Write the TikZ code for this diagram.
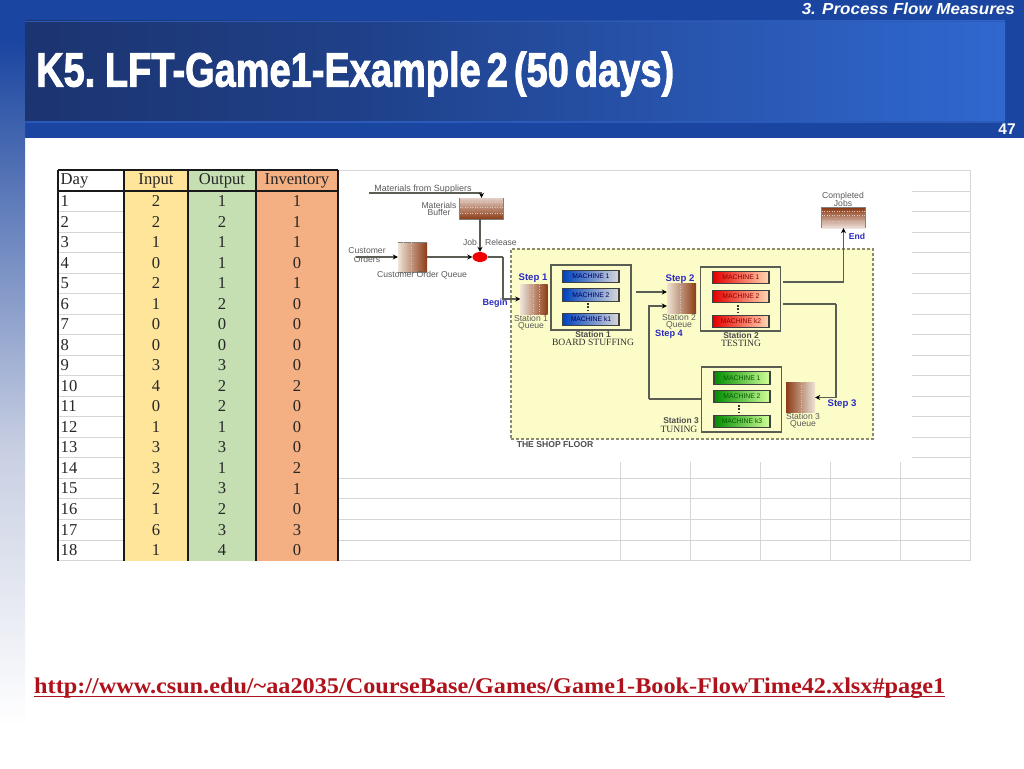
\documentclass[tikz,border=0pt]{standalone}
\usepackage{fontspec}
\usepackage{graphicx}
\setmainfont{Liberation Serif}
\setsansfont{Liberation Sans}
\newfontfamily\titlef[BoldFeatures={FakeBold=2.2}]{Liberation Sans}
\usetikzlibrary{arrows.meta,shapes.geometric}
\definecolor{band}{HTML}{1A45A0}
\definecolor{bandlight}{HTML}{2B5AB8}
\definecolor{titledark}{HTML}{1C3470}
\definecolor{titlemid}{HTML}{1F4088}
\definecolor{titlelight}{HTML}{3068D0}
\definecolor{stripmid}{HTML}{C8CFE2}
\definecolor{ycol}{HTML}{FEE599}
\definecolor{gcol}{HTML}{C5DFB3}
\definecolor{ocol}{HTML}{F4B083}
\definecolor{sheet}{HTML}{D6D6D6}
\definecolor{floor}{HTML}{FCFCC8}
\definecolor{floorline}{HTML}{8C8C6C}
\definecolor{flowc}{HTML}{5A5D54}
\definecolor{lab}{HTML}{5A5A5A}
\definecolor{stepc}{HTML}{2A2AC0}
\definecolor{qdark}{HTML}{8C3C16}
\definecolor{qlight}{HTML}{EFE3D6}
\definecolor{linkc}{HTML}{B0121C}
\tikzset{
  x=1pt,y=-1pt,
  cell/.style={font=\fontsize{16.6}{18}\selectfont,inner sep=0pt,text=black!85},
  sheetline/.style={draw=sheet,line width=1pt},
  tabline/.style={draw=black!90,line width=1.2pt},
  flow/.style={draw=flowc,line width=1.2pt,-{Stealth[length=5pt,width=5pt,color=black]}},
  flowplain/.style={draw=flowc,line width=1.2pt},
  lbl/.style={font=\sffamily\fontsize{8.6}{8.6}\selectfont,text=lab,align=center,inner sep=0pt},
  steplbl/.style={font=\sffamily\bfseries\fontsize{9.6}{10}\selectfont,text=stepc,inner sep=0pt},
  stat/.style={font=\sffamily\bfseries\fontsize{8.4}{9}\selectfont,text=black!70,inner sep=0pt},
  statname/.style={font=\fontsize{9.6}{10}\selectfont,text=black!80,inner sep=0pt},
  frame/.style={draw=flowc,line width=1.2pt,fill=floor,minimum width=80pt,inner sep=0pt},
  qbox/.style={minimum width=27pt,minimum height=30pt,inner sep=0pt},
  qdot/.style={draw=gray!45,dotted,line width=.5pt},
  mach/.style={draw=black!75,line width=1.2pt,minimum width=56pt,minimum height=12.5pt,inner sep=0pt,
     font=\sffamily\fontsize{6.8}{6.8}\selectfont},
  mblue/.style={mach,left color=blue!65!cyan!75!black,right color=gray!30,text=blue!35!black},
  mred/.style={mach,left color=red!90!black,right color=orange!30,text=red!55!black},
  mgreen/.style={mach,left color=green!55!black,right color=green!45!yellow!40,text=green!35!black},
  vdotsline/.style={draw=black!80,line width=2pt,dash pattern=on 1.7pt off 1.6pt},
}
\begin{document}
\begin{tikzpicture}
\useasboundingbox (0,0) rectangle (1024,768);
\fill[white] (0,0) rectangle (1024,768);
% slide chrome
\fill[band] (0,0) rectangle (1024,138);
\fill[top color=band,bottom color=stripmid] (0,40) rectangle (25,450);
\fill[top color=stripmid,bottom color=white] (0,450) rectangle (25,725);
\fill[left color=titledark,right color=titlemid] (25,21) rectangle (350,122);
\fill[left color=titlemid,right color=titlelight] (350,21) rectangle (1005,122);
\fill[bandlight] (25,21) rectangle (1005,22.5);
\fill[bandlight] (25,121) rectangle (1005,122.5);
\node[anchor=base west,inner sep=0pt,text=white] (title) at (36,86.5)
  {\resizebox{638pt}{\height}{\titlef\bfseries\fontsize{48}{52}\selectfont\spaceskip=.16em K5. LFT-Game1-Example 2 (50 days)}};
\node[anchor=east,inner sep=0pt,text=white,font=\sffamily\bfseries\itshape\fontsize{16}{18}\selectfont] (section) at (1015,9)
  {\resizebox{213pt}{\height}{3. Process Flow Measures}};
\node[inner sep=0pt,text=white,font=\sffamily\bfseries\fontsize{15.5}{18}\selectfont] (pageno) at (1007,129) {47};
% spreadsheet background
\foreach \k in {14,...,18}{\draw[sheetline] (338,191+20.53*\k) -- (970,191+20.53*\k);}
\foreach \k in {0,...,13}{\draw[sheetline] (912,191+20.53*\k) -- (970,191+20.53*\k);}
\draw[sheetline] (338,170) -- (970,170);
\draw[sheetline] (970,170) -- (970,560.5);
\foreach \xx in {620,690,760,830,900}{\draw[sheetline] (\xx,462) -- (\xx,560.5);}
% table
\fill[ycol] (124,170) rectangle (188,560.5);
\fill[gcol] (188,170) rectangle (256,560.5);
\fill[ocol] (256,170) rectangle (338,560.5);
\foreach \k in {0,...,18}{\draw[sheetline] (58,191+20.53*\k) -- (124,191+20.53*\k);}
\draw[tabline] (58,170) -- (338,170);
\draw[tabline] (58,191) -- (338,191);
\foreach \xx in {58,124,188,256,338}{\draw[tabline] (\xx,170) -- (\xx,560.5);}
\node[cell,anchor=west] (hd) at (60.5,181) {Day};
\node[cell] (hi) at (156,181) {Input};
\node[cell] (ho) at (222,181) {Output};
\node[cell] (hv) at (297,181) {Inventory};
\foreach \r/\a/\b/\c in {1/2/1/1,2/2/2/1,3/1/1/1,4/0/1/0,5/2/1/1,6/1/2/0,7/0/0/0,8/0/0/0,9/3/3/0,10/4/2/2,11/0/2/0,12/1/1/0,13/3/3/0,14/3/1/2,15/2/3/1,16/1/2/0,17/6/3/3,18/1/4/0}{
  \node[cell,anchor=west] (d\r) at (60.5,180.6+20.53*\r) {\r};
  \node[cell] (a\r) at (156,180.6+20.53*\r) {\a};
  \node[cell] (b\r) at (222,180.6+20.53*\r) {\b};
  \node[cell] (c\r) at (297,180.6+20.53*\r) {\c};
}
% shop floor
\node[draw=floorline,dash pattern=on 3pt off 2pt,line width=1.1pt,fill=floor,minimum width=362pt,minimum height=190pt,inner sep=0pt] (shop) at (692,344) {};
\node[font=\sffamily\bfseries\fontsize{8.6}{8.6}\selectfont,text=black!70,inner sep=0pt] (shoplbl) at (555,444.5) {THE SHOP FLOOR};
% materials
\node[qbox,minimum width=43pt,minimum height=21pt,top color=qdark!25!white,bottom color=qdark] (mbuf) at (481.5,208.5) {};
\draw[gray,line width=.8pt] (mbuf.north west) -- (mbuf.south west) -- (mbuf.south east) -- (mbuf.north east);
\foreach \yy in {-5,1,6}{\draw[white!70!qdark,dotted,line width=.5pt] ([yshift=\yy pt]mbuf.west) -- ([yshift=\yy pt]mbuf.east);}
\node[lbl] (mfs) at (423,189.5) {\fontsize{9}{9}\selectfont Materials from Suppliers};
\node[lbl] (mbl) at (439,209) {Materials\\[-1.4pt]Buffer};
\coordinate (msrc) at (369,193);
\draw[flow] (msrc) -| (mbuf.north);
\node[ellipse,fill=red!95!black,minimum width=15pt,minimum height=10pt,inner sep=0pt] (rel) at (480,257) {};
\draw[flow] (rel.north |- mbuf.south) -- (rel.north);
\node[lbl] (job) at (470,242) {Job};
\node[lbl] (jrel) at (501,242) {Release};
% customer orders
\node[qbox,minimum width=29pt,left color=qlight,right color=qdark] (coq) at (412.5,257) {};
\draw[gray,line width=.6pt] (coq.north west) -- (coq.north east);
\draw[gray,line width=.6pt] (coq.south west) -- (coq.south east);
\foreach \s in {-9,-1}{\draw[qdot] ([xshift=\s pt]coq.north) -- ([xshift=\s pt]coq.south);}
\node[lbl] (co) at (367,255.5) {Customer\\[.4pt]Orders};
\coordinate (csrc) at (356,257);
\draw[flow] (csrc) -- (coq.west);
\node[lbl] (coql) at (422,275.5) {Customer Order Queue};
\draw[flow] (coq.east) -- (rel.west);
% station 1
\node[qbox,left color=qlight,right color=qdark] (q1) at (534,299) {};
\foreach \s in {-8,-1,5}{\draw[qdot] ([xshift=\s pt]q1.north) -- ([xshift=\s pt]q1.south);}
\node[steplbl] (st1) at (533,278.5) {Step 1};
\node[steplbl,font=\sffamily\bfseries\fontsize{9}{10}\selectfont] (begin) at (495,303.5) {Begin};
\node[lbl] (q1l) at (531,322.5) {Station 1\\[-1.4pt]Queue};
\coordinate (t1) at (503,257);
\draw[flowplain] (rel.east) -- (t1);
\draw[flow] (t1) |- (q1.west);
\node[frame,minimum height=65pt] (s1) at (591,297.5) {};
\node[mblue] (m11) at (591,276.5) {MACHINE 1};
\node[mblue] (m12) at (591,295) {MACHINE 2};
\node[mblue] (m13) at (591,319.5) {MACHINE k1};
\coordinate (d1a) at (588,303);
\coordinate (d1b) at (588,312);
\draw[vdotsline] (d1a) -- (d1b);
\node[stat] (s1a) at (593,334) {Station 1};
\node[statname] (s1b) at (593,342) {BOARD STUFFING};
% station 2
\node[qbox,minimum width=29pt,left color=qlight,right color=qdark] (q2) at (681.5,298.5) {};
\foreach \s in {-8,-1}{\draw[qdot] ([xshift=\s pt]q2.north) -- ([xshift=\s pt]q2.south);}
\node[steplbl] (st2) at (680,279) {Step 2};
\node[lbl] (q2l) at (679,321.5) {Station 2\\[-1.4pt]Queue};
\node[steplbl,font=\sffamily\bfseries\fontsize{9.2}{10}\selectfont] (st4) at (669,334) {Step 4};
\node[frame,minimum height=64pt] (s2) at (740.5,299) {};
\node[mred] (m21) at (741,277.5) {MACHINE 1};
\node[mred] (m22) at (741,296.5) {MACHINE 2};
\node[mred] (m23) at (741,321.5) {MACHINE k2};
\coordinate (d2a) at (738,305);
\coordinate (d2b) at (738,314);
\draw[vdotsline] (d2a) -- (d2b);
\node[stat] (s2a) at (741,335) {Station 2};
\node[statname] (s2b) at (741,343) {TESTING};
\coordinate (s1out) at (636,292);
\draw[flow] (s1out) -- (s1out -| q2.west);
% completed
\node[qbox,minimum width=43pt,minimum height=20pt,top color=qdark,bottom color=qdark!15!white] (done) at (843.5,218) {};
\draw[gray,line width=.8pt] (done.south west) -- (done.north west) -- (done.north east) -- (done.south east);
\foreach \yy in {-3,3,7}{\draw[white!70!qdark,dotted,line width=.5pt] ([yshift=\yy pt]done.west) -- ([yshift=\yy pt]done.east);}
\node[lbl] (donel) at (843,199.5) {Completed\\[-1.4pt]Jobs};
\node[steplbl,font=\sffamily\bfseries\fontsize{8.6}{9}\selectfont] (endl) at (857,236.5) {End};
\coordinate (s2out) at (783,282);
\draw[flow] (s2out) -| (done.south);
% station 3
\node[qbox,minimum width=29pt,left color=qdark,right color=qlight] (q3) at (800.5,397.5) {};
\foreach \s in {1,8}{\draw[qdot] ([xshift=\s pt]q3.north) -- ([xshift=\s pt]q3.south);}
\node[lbl] (q3l) at (803,420.5) {Station 3\\[-1.4pt]Queue};
\node[steplbl] (st3) at (842,404) {Step 3};
\coordinate (s2b2) at (783,304);
\coordinate (t3) at (836,304);
\draw[flowplain] (s2b2) -- (t3);
\draw[flow] (t3) |- (q3.east);
\node[frame,minimum height=65pt] (s3) at (741.5,399.5) {};
\node[mgreen] (m31) at (742,378) {MACHINE 1};
\node[mgreen] (m32) at (742,396.5) {MACHINE 2};
\node[mgreen] (m33) at (742,421.5) {MACHINE k3};
\coordinate (d3a) at (739,405);
\coordinate (d3b) at (739,414);
\draw[vdotsline] (d3a) -- (d3b);
\node[stat] (s3a) at (681,420) {Station 3};
\node[statname] (s3b) at (679,429) {TUNING};
\coordinate (t4) at (649,399);
\coordinate (s3out) at (649,306);
\draw[flowplain] (s3.west |- t4) -- (t4);
\draw[flow] (t4) -- (s3out) -- (s3out -| q2.west);
% link
\node[anchor=base west,inner sep=0pt,text=linkc] (url) at (34,693)
  {\resizebox{911pt}{\height}{\bfseries\fontsize{22.5}{24}\selectfont http://www.csun.edu/\~{}aa2035/CourseBase/Games/Game1-Book-FlowTime42.xlsx\#page1}};
\draw[linkc,line width=1.2pt] (34,696.5) -- (945,696.5);
\end{tikzpicture}
\end{document}
